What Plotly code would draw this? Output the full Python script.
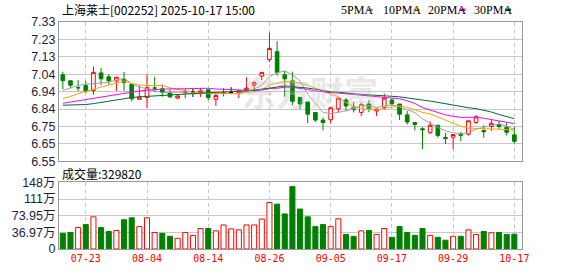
import numpy as np
import plotly.graph_objects as go

dates = ["07-18", "07-21", "07-22", "07-23", "07-24", "07-25", "07-28", "07-29", "07-30", "07-31",
         "08-01", "08-04", "08-05", "08-06", "08-07", "08-08", "08-11", "08-12", "08-13", "08-14",
         "08-15", "08-18", "08-19", "08-20", "08-21", "08-22", "08-25", "08-26", "08-27", "08-28",
         "08-29", "09-01", "09-02", "09-03", "09-04", "09-05", "09-08", "09-09", "09-10", "09-11",
         "09-12", "09-15", "09-16", "09-17", "09-18", "09-19", "09-22", "09-23", "09-24", "09-25",
         "09-26", "09-29", "09-30", "10-09", "10-10", "10-13", "10-14", "10-15", "10-16", "10-17"]

opens = [7.034, 7.001, 6.962, 6.974, 6.947, 7.045, 7.023, 7.000, 7.010, 6.980,
         6.897, 6.907, 6.960, 6.956, 6.933, 6.904, 6.935, 6.937, 6.933, 6.950,
         6.897, 6.930, 6.935, 6.933, 6.950, 6.976, 7.027, 7.119, 7.164, 7.034,
         7.001, 6.908, 6.882, 6.823, 6.781, 6.783, 6.844, 6.893, 6.853, 6.824,
         6.871, 6.832, 6.853, 6.893, 6.871, 6.810, 6.767, 6.732, 6.712, 6.752,
         6.684, 6.685, 6.702, 6.702, 6.767, 6.722, 6.745, 6.756, 6.741, 6.698]
highs = [7.052, 7.003, 7.005, 7.000, 7.081, 7.072, 7.036, 7.021, 7.050, 6.982,
         6.976, 7.034, 7.023, 6.980, 6.953, 6.920, 6.955, 6.957, 6.958, 6.957,
         6.936, 6.960, 6.965, 6.945, 7.020, 7.000, 7.048, 7.269, 7.223, 7.057,
         7.052, 6.908, 6.882, 6.823, 6.795, 6.850, 6.904, 6.904, 6.882, 6.879,
         6.893, 6.843, 6.929, 6.904, 6.871, 6.832, 6.767, 6.741, 6.774, 6.752,
         6.709, 6.700, 6.714, 6.777, 6.810, 6.752, 6.785, 6.777, 6.767, 6.741]
lows = [6.954, 6.958, 6.944, 6.933, 6.922, 6.976, 6.980, 6.944, 6.944, 6.886,
        6.895, 6.850, 6.937, 6.911, 6.905, 6.900, 6.904, 6.910, 6.910, 6.893,
        6.860, 6.914, 6.930, 6.904, 6.940, 6.936, 7.005, 7.106, 7.030, 6.911,
        6.864, 6.842, 6.763, 6.770, 6.723, 6.763, 6.822, 6.835, 6.824, 6.803,
        6.825, 6.803, 6.839, 6.860, 6.781, 6.756, 6.723, 6.619, 6.702, 6.683,
        6.647, 6.619, 6.662, 6.694, 6.760, 6.683, 6.720, 6.730, 6.694, 6.650]
closes = [7.001, 6.976, 6.962, 6.944, 7.048, 7.012, 7.001, 7.021, 6.992, 6.900,
          6.910, 6.962, 6.960, 6.936, 6.911, 6.916, 6.937, 6.937, 6.944, 6.907,
          6.918, 6.935, 6.935, 6.945, 6.960, 6.990, 7.048, 7.182, 7.048, 7.012,
          6.886, 6.871, 6.814, 6.781, 6.767, 6.850, 6.904, 6.860, 6.839, 6.868,
          6.843, 6.843, 6.904, 6.872, 6.814, 6.770, 6.756, 6.727, 6.752, 6.694,
          6.678, 6.700, 6.696, 6.777, 6.799, 6.716, 6.763, 6.745, 6.713, 6.662]
volumes = [347000, 368000, 477000, 542000, 715000, 477000, 390000, 412000, 650000, 693000,
           498000, 693000, 368000, 347000, 282000, 238000, 368000, 303000, 455000, 455000,
           404000, 534000, 448000, 426000, 534000, 534000, 665000, 1033000, 997000, 780000,
           1387000, 888000, 715000, 498000, 542000, 498000, 672000, 325000, 282000, 404000,
           412000, 325000, 455000, 260000, 498000, 368000, 303000, 455000, 303000, 260000,
           195000, 282000, 282000, 426000, 325000, 390000, 361000, 368000, 325000, 329820]

ma5 = [6.947, 6.962, 6.975, 6.982, 6.986, 6.988, 6.993, 7.005, 7.015, 6.985,
       6.965, 6.957, 6.945, 6.934, 6.936, 6.938, 6.933, 6.927, 6.929, 6.928,
       6.928, 6.928, 6.929, 6.929, 6.940, 6.954, 6.977, 7.025, 7.046, 7.056,
       7.035, 7.000, 6.926, 6.873, 6.824, 6.817, 6.823, 6.832, 6.844, 6.864,
       6.863, 6.851, 6.859, 6.866, 6.855, 6.841, 6.823, 6.788, 6.764, 6.740,
       6.721, 6.710, 6.704, 6.709, 6.730, 6.738, 6.750, 6.760, 6.747, 6.728]
ma10 = [6.900, 6.915, 6.930, 6.942, 6.954, 6.965, 6.978, 6.990, 7.000, 6.986,
        6.977, 6.975, 6.975, 6.975, 6.961, 6.951, 6.945, 6.936, 6.931, 6.932,
        6.933, 6.930, 6.928, 6.929, 6.934, 6.941, 6.952, 6.977, 6.987, 6.998,
        6.995, 6.988, 6.976, 6.959, 6.940, 6.926, 6.912, 6.879, 6.858, 6.844,
        6.840, 6.837, 6.846, 6.855, 6.860, 6.852, 6.837, 6.824, 6.815, 6.798,
        6.781, 6.767, 6.746, 6.736, 6.735, 6.730, 6.730, 6.732, 6.728, 6.725]
ma20 = [6.875, 6.882, 6.888, 6.895, 6.903, 6.910, 6.918, 6.925, 6.932, 6.938,
        6.944, 6.948, 6.952, 6.954, 6.955, 6.956, 6.957, 6.958, 6.958, 6.959,
        6.955, 6.953, 6.952, 6.952, 6.947, 6.946, 6.949, 6.957, 6.959, 6.965,
        6.964, 6.959, 6.952, 6.944, 6.937, 6.934, 6.932, 6.928, 6.923, 6.921,
        6.917, 6.913, 6.911, 6.907, 6.900, 6.889, 6.874, 6.851, 6.837, 6.821,
        6.810, 6.802, 6.796, 6.796, 6.797, 6.791, 6.784, 6.778, 6.772, 6.761]
ma30 = [6.864, 6.865, 6.866, 6.868, 6.873, 6.880, 6.888, 6.895, 6.901, 6.907,
        6.911, 6.914, 6.917, 6.919, 6.921, 6.923, 6.926, 6.929, 6.932, 6.934,
        6.936, 6.937, 6.939, 6.941, 6.944, 6.948, 6.954, 6.962, 6.968, 6.972,
        6.968, 6.965, 6.960, 6.954, 6.945, 6.939, 6.936, 6.931, 6.926, 6.925,
        6.922, 6.918, 6.916, 6.914, 6.911, 6.906, 6.900, 6.893, 6.887, 6.880,
        6.872, 6.864, 6.856, 6.850, 6.845, 6.836, 6.826, 6.812, 6.800, 6.789]

price_ticks = [6.55, 6.6475, 6.745, 6.8425, 6.94, 7.0375, 7.135, 7.2325, 7.33]
price_labels = ["6.55", "6.65", "6.75", "6.84", "6.94", "7.04", "7.13", "7.23", "7.33"]
vol_ticks = [0, 369750, 739500, 1109250, 1479000]
vol_labels = ["0", "36.97万", "73.95万", "111万", "148万"]
date_ticks = ["07-23", "08-04", "08-14", "08-26", "09-05", "09-17", "09-29", "10-17"]
ma_names = ["5PMA", "10PMA", "20PMA", "30PMA"]
ma_colors = ["#a0a0a0", "#f5a300", "#ff00ff", "#006a3a"]

title_text = "上海莱士[002252] 2025-10-17 15:00"

RED = "#ff0000"
GREEN = "#008000"

o = np.array(opens); c = np.array(closes)
prev = np.concatenate([[c[0]], c[:-1]])
direction = np.sign(np.round(c - o, 6))
flat = direction == 0
direction[flat] = np.sign(np.round(c - prev, 6))[flat]

W, H = 578, 276
L, R, T, B = 56, 56, 22, 21
PW, PH = W - L - R, H - T - B


def px(xp):
    return (xp - L) / PW


def py(yp):
    return (H - B - yp) / PH


fig = go.Figure()

groups = [(direction > 0, RED, "#ffffff"), (direction < 0, GREEN, GREEN), (direction == 0, "#000000", "#000000")]
for mask, lc, fc in groups:
    idx = np.where(mask)[0]
    if len(idx) == 0:
        continue
    fig.add_trace(go.Candlestick(
        x=[dates[i] for i in idx],
        open=[opens[i] for i in idx], high=[highs[i] for i in idx],
        low=[lows[i] for i in idx], close=[closes[i] for i in idx],
        increasing=dict(line=dict(color=lc, width=1), fillcolor=fc),
        decreasing=dict(line=dict(color=lc, width=1), fillcolor=fc),
        whiskerwidth=0, showlegend=False, hoverinfo="skip",
        xaxis="x", yaxis="y"))

for vals, name, col in zip([ma5, ma10, ma20, ma30], ma_names, ma_colors):
    fig.add_trace(go.Scatter(x=dates, y=vals, mode="lines", name=name,
                             line=dict(color=col, width=1), showlegend=False,
                             hoverinfo="skip", xaxis="x", yaxis="y"))

up_vol = c >= o
fig.add_trace(go.Bar(
    x=dates, y=volumes,
    marker=dict(color=["#ffffff" if u else GREEN for u in up_vol],
                line=dict(color=[RED if u else GREEN for u in up_vol], width=1)),
    showlegend=False, hoverinfo="skip", xaxis="x2", yaxis="y2"))

main_bottom = py(165)
vol_top = py(186.7)

axis_common = dict(showline=True, mirror=True, linecolor="#999999", linewidth=1,
                   zeroline=False, fixedrange=True)
tick_font = dict(family="Liberation Sans, Arial, Noto Sans CJK SC", size=12.5, color="#1e1e3c")
cat_common = dict(type="category", categoryorder="array", categoryarray=dates,
                  range=[-0.5, len(dates)], domain=[0, 1], tickvals=date_ticks, ticks="",
                  showgrid=True, gridcolor="#c8c8c8", griddash="4px,3px", gridwidth=1)

fig.update_layout(
    width=W, height=H, autosize=False,
    margin=dict(l=L, r=R, t=T, b=B, pad=0),
    paper_bgcolor="#ffffff", plot_bgcolor="#ffffff",
    boxgap=0.32, bargap=0.34,
    xaxis=dict(anchor="y", showticklabels=False,
               rangeslider=dict(visible=False), **cat_common, **axis_common),
    xaxis2=dict(anchor="y2", ticktext=date_ticks,
                tickfont=dict(family="DejaVu Sans Mono, Liberation Mono", size=10, color=RED),
                **cat_common, **axis_common),
    yaxis=dict(domain=[main_bottom, 1], range=[price_ticks[0], price_ticks[-1]], anchor="x",
               tickvals=price_ticks, ticktext=price_labels, ticks="", tickfont=tick_font,
               showgrid=True, gridcolor="#c8c8c8", gridwidth=1, **axis_common),
    yaxis2=dict(domain=[0, vol_top], range=[vol_ticks[0], vol_ticks[-1]], anchor="x2",
                tickvals=vol_ticks, ticktext=vol_labels, ticks="", tickfont=tick_font,
                showgrid=True, gridcolor="#c8c8c8", gridwidth=1, **axis_common),
)

ann = []
ann.append(dict(text=title_text, xref="paper", yref="paper", x=px(57), y=py(9.5),
                xanchor="left", yanchor="middle", showarrow=False,
                font=dict(family="Noto Sans CJK SC", size=12, color="#000000")))
leg_x = [338, 380, 425, 472]
mark_x = [366, 413, 459, 505]
shapes = []
for name, col, lx, mx in zip(ma_names, ma_colors, leg_x, mark_x):
    ann.append(dict(text=name, xref="paper", yref="paper", x=px(lx), y=py(9.5),
                    xanchor="left", yanchor="middle", showarrow=False,
                    font=dict(family="Liberation Serif, DejaVu Serif", size=12, color="#000000")))
    shapes.append(dict(type="rect", xref="paper", yref="paper", x0=px(mx), x1=px(mx + 6),
                       y0=py(10.8), y1=py(8.2), fillcolor=col, line=dict(width=0)))
ann.append(dict(text="成交量:" + str(volumes[-1]), xref="paper", yref="paper", x=px(57), y=py(178),
                xanchor="left", yanchor="middle", showarrow=False,
                font=dict(family="Noto Sans CJK SC", size=12, color="#000000")))
ann.append(dict(text="<b>东方财富</b>", xref="paper", yref="paper", x=px(309), y=py(93),
                xanchor="center", yanchor="middle", showarrow=False,
                font=dict(family="Noto Sans CJK SC", size=34, color="rgba(190,190,190,0.35)")))
fig.update_layout(annotations=ann, shapes=shapes)

fig.write_html("out.html", config={"displayModeBar": False})
